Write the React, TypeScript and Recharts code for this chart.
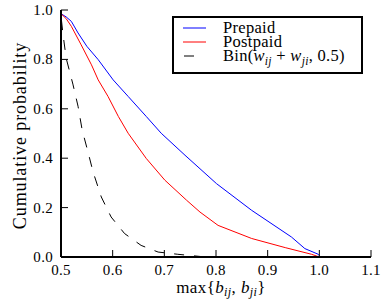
import React from 'react';
import { LineChart, Line, XAxis, YAxis } from 'recharts';

const xTicks = [0.5, 0.6, 0.7, 0.8, 0.9, 1.0, 1.1];
const yTicks = [0.0, 0.2, 0.4, 0.6, 0.8, 1.0];

const prepaidX = [0.5, 0.51, 0.52, 0.533, 0.55, 0.572, 0.601, 0.63, 0.665, 0.694, 0.74, 0.801, 0.869, 0.946, 0.972, 0.998, 1.0];
const prepaidY = [0.985, 0.972, 0.954, 0.907, 0.853, 0.799, 0.717, 0.65, 0.569, 0.501, 0.412, 0.297, 0.189, 0.081, 0.034, 0.011, 0.005];

const postpaidX = [0.5, 0.51, 0.52, 0.539, 0.559, 0.572, 0.591, 0.611, 0.63, 0.665, 0.701, 0.743, 0.769, 0.804, 0.869, 0.934, 0.985, 1.0];
const postpaidY = [0.985, 0.965, 0.934, 0.859, 0.778, 0.717, 0.65, 0.569, 0.501, 0.399, 0.311, 0.23, 0.182, 0.128, 0.075, 0.038, 0.011, 0.0];

const binX = [0.5, 0.504, 0.51, 0.523, 0.533, 0.541, 0.553, 0.562, 0.578, 0.597, 0.623, 0.655, 0.688, 0.726, 0.78];
const binY = [0.975, 0.9, 0.805, 0.7, 0.61, 0.514, 0.419, 0.345, 0.243, 0.162, 0.095, 0.047, 0.02, 0.011, 0.0];

const zip = (xs: number[], ys: number[]) => xs.map((x, i) => ({ x, y: ys[i] }));
const prepaid = zip(prepaidX, prepaidY);
const postpaid = zip(postpaidX, postpaidY);
const bin = zip(binX, binY);

const FONT = 'Liberation Serif';
const TICK = 7;

const fmt = (v: number) => v.toFixed(1);

const BottomTick = (p: any) => (
  <g>
    <line x1={p.x} y1={p.y} x2={p.x} y2={p.y - TICK} stroke="#000" strokeWidth={1} />
    <text x={p.x} y={p.y + 18} textAnchor="middle" fontFamily={FONT} fontSize={15} letterSpacing={0.3} fill="#000">
      {fmt(p.payload.value)}
    </text>
  </g>
);
const TopTick = (p: any) => (
  <line x1={p.x} y1={p.y} x2={p.x} y2={p.y + TICK} stroke="#000" strokeWidth={1} />
);
const LeftTick = (p: any) => (
  <g>
    <line x1={p.x} y1={p.y} x2={p.x + TICK} y2={p.y} stroke="#000" strokeWidth={1} />
    <text x={p.x - 8} y={p.y + 5} textAnchor="end" fontFamily={FONT} fontSize={15} letterSpacing={0.3} fill="#000">
      {fmt(p.payload.value)}
    </text>
  </g>
);
const RightTick = (p: any) => (
  <line x1={p.x} y1={p.y} x2={p.x - TICK} y2={p.y} stroke="#000" strokeWidth={1} />
);

const YLabel = () => (
  <text
    x={26}
    y={135.5}
    transform="rotate(-90 26 135.5)"
    textAnchor="middle"
    fontFamily={FONT}
    fontSize={18}
    letterSpacing={0.9}
    fill="#000"
  >
    Cumulative probability
  </text>
);

const XLabel = () => (
  <text x={221} y={293} textAnchor="middle" fontFamily={FONT} fontSize={17} letterSpacing={0.4} fill="#000">
    <tspan>max{'{'}</tspan>
    <tspan fontStyle="italic">b</tspan>
    <tspan fontStyle="italic" fontSize={12} dy={3}>ij</tspan>
    <tspan dy={-3}>, </tspan>
    <tspan fontStyle="italic">b</tspan>
    <tspan fontStyle="italic" fontSize={12} dy={3}>ji</tspan>
    <tspan dy={-3}>{'}'}</tspan>
  </text>
);

const axisLine = { stroke: '#000', strokeWidth: 2 };

const legendItems = [
  { color: '#0000ff', dash: false },
  { color: '#ff0000', dash: false },
  { color: '#000000', dash: true },
];

const Legend = () => (
  <div
    style={{
      position: 'absolute',
      left: 172,
      top: 16,
      width: 187,
      height: 54,
      border: '2px solid #000',
      background: '#fff',
      fontFamily: FONT,
      fontSize: 16.5,
      color: '#000',
    }}
  >
    <svg width={187} height={54} style={{ position: 'absolute', left: 0, top: 0 }}>
      {legendItems.map((it, i) => (
        <line
          key={i}
          x1={9}
          x2={32}
          y1={10 + i * 14}
          y2={10 + i * 14}
          stroke={it.color}
          strokeWidth={1}
          strokeDasharray={it.dash ? '10 20' : undefined}
          strokeDashoffset={it.dash ? -1 : undefined}
        />
      ))}
    </svg>
    <div style={{ position: 'absolute', left: 49, top: 3, lineHeight: '14px', letterSpacing: 0.3, whiteSpace: 'nowrap' }}>
      <div>Prepaid</div>
      <div>Postpaid</div>
      <div>
        Bin(<i>w</i>
        <sub style={{ fontSize: 11.5, fontStyle: 'italic', lineHeight: 0 }}>ij</sub> + <i>w</i>
        <sub style={{ fontSize: 11.5, fontStyle: 'italic', lineHeight: 0 }}>ji</sub>, 0.5)
      </div>
    </div>
  </div>
);

export default function App() {
  return (
    <div style={{ position: 'absolute', left: 0, top: 0, width: 382, height: 306, background: '#fff' }}>
      <LineChart width={382} height={306} margin={{ top: 10, right: 11, bottom: 0, left: 0 }}>
        <XAxis
          xAxisId="b"
          type="number"
          dataKey="x"
          domain={[0.5, 1.1]}
          ticks={xTicks}
          height={49}
          axisLine={axisLine}
          tickLine={false}
          tickSize={0}
          tickMargin={0}
          tick={BottomTick}
          allowDataOverflow
          label={{ content: XLabel }}
        />
        <XAxis
          xAxisId="t"
          orientation="top"
          type="number"
          dataKey="x"
          domain={[0.5, 1.1]}
          ticks={xTicks}
          height={0}
          axisLine={axisLine}
          tickLine={false}
          tickSize={0}
          tickMargin={0}
          tick={TopTick}
          allowDataOverflow
        />
        <YAxis
          yAxisId="l"
          type="number"
          domain={[0, 1]}
          ticks={yTicks}
          width={61}
          axisLine={axisLine}
          tickLine={false}
          tickSize={0}
          tickMargin={0}
          tick={LeftTick}
          allowDataOverflow
          label={{ content: YLabel }}
        />
        <YAxis
          yAxisId="r"
          orientation="right"
          type="number"
          domain={[0, 1]}
          ticks={yTicks}
          width={0}
          axisLine={axisLine}
          tickLine={false}
          tickSize={0}
          tickMargin={0}
          tick={RightTick}
          allowDataOverflow
        />
        <Line xAxisId="b" yAxisId="l" data={prepaid} dataKey="y" type="linear" stroke="#0000ff" strokeWidth={1} dot={false} isAnimationActive={false} />
        <Line xAxisId="b" yAxisId="l" data={postpaid} dataKey="y" type="linear" stroke="#ff0000" strokeWidth={1} dot={false} isAnimationActive={false} />
        <Line xAxisId="b" yAxisId="l" data={bin} dataKey="y" type="linear" stroke="#000000" strokeWidth={1} strokeDasharray="10 10" strokeDashoffset={-4} dot={false} isAnimationActive={false} />
      </LineChart>
      <Legend />
    </div>
  );
}
